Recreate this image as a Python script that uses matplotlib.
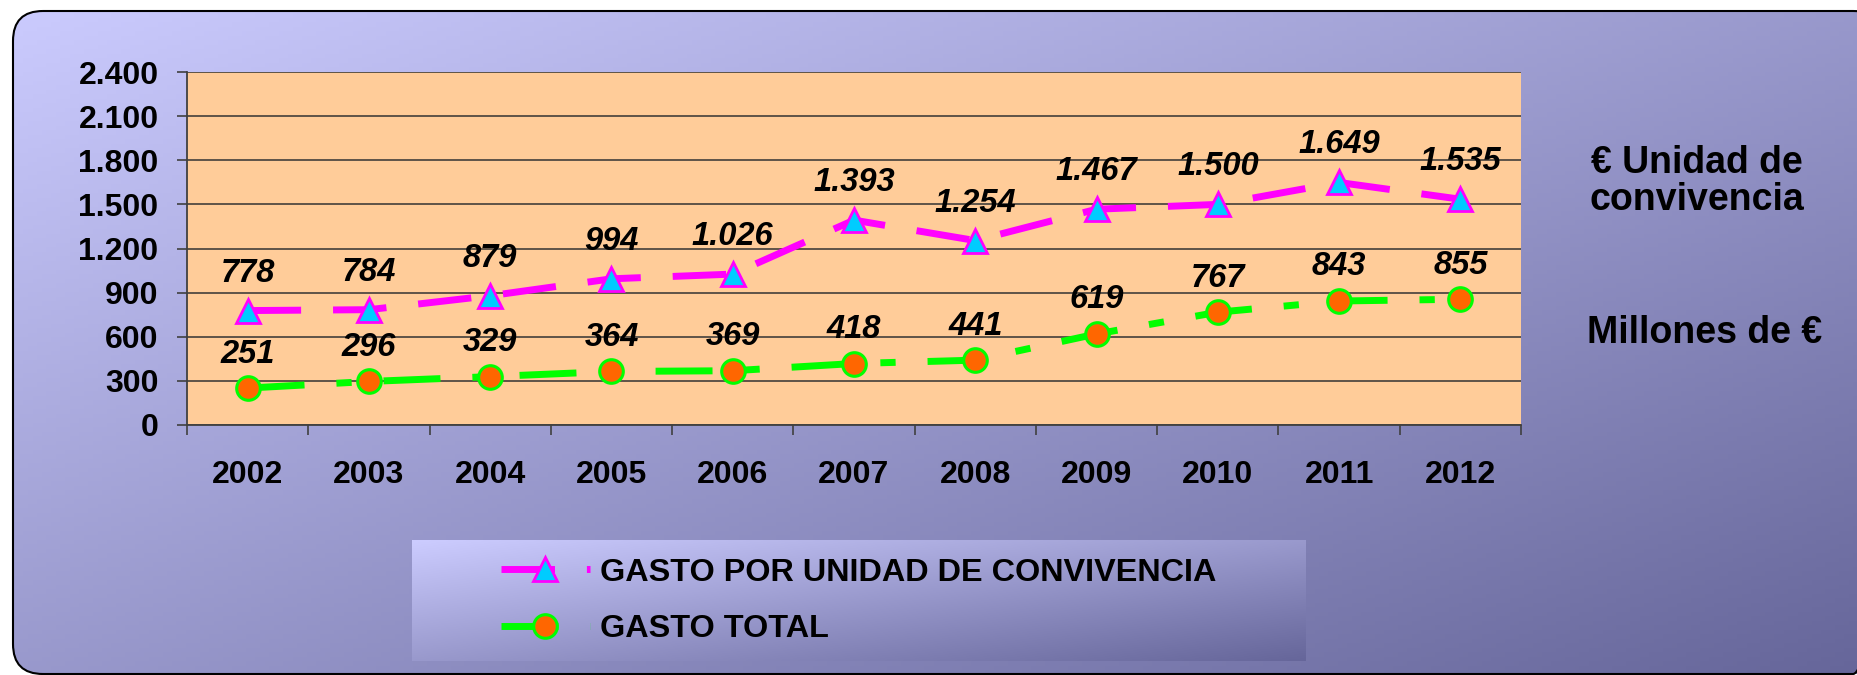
import matplotlib.pyplot as plt
import numpy as np
from matplotlib.patches import FancyBboxPatch

years = ['2002', '2003', '2004', '2005', '2006', '2007', '2008', '2009', '2010', '2011', '2012']
gasto_unidad = [778, 784, 879, 994, 1026, 1393, 1254, 1467, 1500, 1649, 1535]
gasto_total = [251, 296, 329, 364, 369, 418, 441, 619, 767, 843, 855]
y_ticks = [0, 300, 600, 900, 1200, 1500, 1800, 2100, 2400]
labels = ['GASTO POR UNIDAD DE CONVIVENCIA', 'GASTO TOTAL']

plt.rcParams['font.family'] = ['Liberation Sans', 'DejaVu Sans']
plt.rcParams['font.weight'] = 'bold'

W, H = 1858, 675


def miles(v):
    return f'{v:,}'.replace(',', '.')


def gradient(nx, ny, c0=(204, 204, 255), c1=(102, 102, 154)):
    u = np.linspace(0, 1, nx)[None, :]
    v = np.linspace(0, 1, ny)[:, None]
    t = ((u + v) / 2)[..., None]
    c0 = np.array(c0) / 255
    c1 = np.array(c1) / 255
    return c0 + (c1 - c0) * t


fig = plt.figure(figsize=(W / 100, H / 100), dpi=100, facecolor='white')

# background panel with rounded frame
bg = fig.add_axes([0, 0, 1, 1], zorder=-1)
frame = FancyBboxPatch((13, 11), 1870, 663, boxstyle='round,pad=0,rounding_size=30',
                       fc='none', ec='black', lw=1.5, zorder=3)
bg.add_patch(frame)
img = bg.imshow(gradient(400, 150), extent=(0, W, H, 0), aspect='auto', zorder=1)
img.set_clip_path(frame)
# legend box
bg.imshow(gradient(300, 60), extent=(412, 1306, 661, 540), aspect='auto', zorder=2)
bg.set_xlim(0, W)
bg.set_ylim(H, 0)
bg.axis('off')

ax = fig.add_axes([187 / W, 1 - 425 / H, (1521 - 187) / W, (425 - 72) / H])
ax.set_facecolor('#FFCC99')
x = np.arange(len(years))

ax.plot(x, gasto_unidad, color='#FF00FF', lw=5, dashes=(7.7, 4.6), dash_capstyle='butt',
        marker='^', ms=17, mfc='#00CCFF', mec='#FF00FF', mew=2, label=labels[0], zorder=3)
ax.plot(x, gasto_total, color='#00FF00', lw=5, dashes=(8.2, 4.6, 2.2, 4.6), dash_capstyle='butt',
        marker='o', ms=17, mfc='#FF6600', mec='#00FF00', mew=2.2, label=labels[1], zorder=3)

for i, v in enumerate(gasto_unidad):
    ax.annotate(miles(v), (i, v), xytext=(0, 27), textcoords='offset points',
                ha='center', va='center', fontsize=23.5, fontstyle='italic', fontweight='bold', zorder=4)
for i, v in enumerate(gasto_total):
    ax.annotate(miles(v), (i, v), xytext=(0, 24.5), textcoords='offset points',
                ha='center', va='center', fontsize=23.5, fontstyle='italic', fontweight='bold', zorder=4)

ax.set_xlim(-0.5, len(years) - 0.5)
ax.set_ylim(0, 2400)
ax.set_yticks(y_ticks)
ax.set_yticklabels([miles(v) for v in y_ticks])
ax.set_xticks(x)
ax.set_xticklabels(years)
ax.set_xticks(np.arange(-0.5, len(years)), minor=True)
ax.tick_params(axis='x', which='major', length=0, pad=25, labelsize=23)
ax.tick_params(axis='x', which='minor', length=7.5, width=1.2, color='#404040', direction='out')
ax.tick_params(axis='y', length=7.5, width=1.2, color='#404040', pad=13, labelsize=23)
ax.grid(axis='y', color='#333333', lw=1.1, zorder=1)
ax.set_axisbelow(True)
for s in ['top', 'right']:
    ax.spines[s].set_visible(False)
for s in ['left', 'bottom']:
    ax.spines[s].set_color('#404040')
    ax.spines[s].set_linewidth(1.3)

# multi-line text: baseline alignment is taken on the last line
fig.text(1697 / W, 1 - 210 / H, '€ Unidad de\nconvivencia', ha='center', va='baseline',
         multialignment='center', fontsize=27, fontweight='bold', linespacing=1.05)
fig.text(1705 / W, 1 - 343 / H, 'Millones de €', ha='center', va='baseline',
         fontsize=27, fontweight='bold')

fig.legend(loc='center left', bbox_to_anchor=(501 / W, 1 - 601 / H), frameon=False,
           fontsize=23.3, handlelength=2.75, handletextpad=0.31, labelspacing=0.82,
           borderpad=0, borderaxespad=0, numpoints=1)

fig.savefig('out.png', dpi=100)
